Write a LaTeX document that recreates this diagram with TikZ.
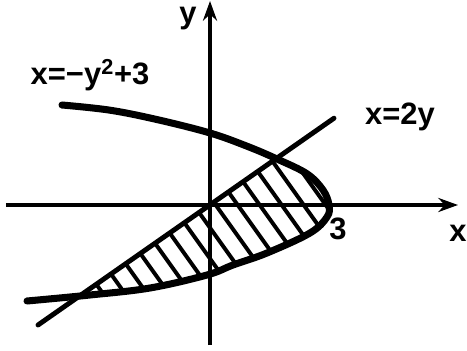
\documentclass[tikz,border=0pt]{standalone}
\usepackage{fontspec}
\setmainfont{Liberation Sans}
\usetikzlibrary{arrows.meta}
\newcommand{\parabolaPath}{
  plot[smooth, tension=0.6] coordinates {
    (-3.7,2.5) (-2.5,2.37) (-1.3,2.13) (0,1.8)
    (0.925,1.47) (1.675,1.15) (2.425,0.78) (2.825,0.375)
    (2.975,0) (2.925,-0.3) (2.5,-0.7) (1.425,-1.2)
    (0.575,-1.5) (-0.075,-1.75) (-1.5,-2.075) (-3.0,-2.25)
    (-4.575,-2.4)
  }
}
\tikzset{
  axisline/.style={line width=2.5pt, -{Stealth[length=14pt,width=10pt]}},
  curveline/.style={line width=5pt, line cap=round},
  chordline/.style={line width=3.5pt, line cap=round},
  hatchline/.style={line width=2.8pt},
  lbl/.style={font=\fontsize{22}{26}\selectfont\bfseries, inner sep=1pt}
}
\begin{document}
\begin{tikzpicture}[x=1cm,y=1cm]

  \def\W{11.675}
  \def\H{8.75}
  \path[use as bounding box] (0,0) rectangle (\W,\H);

  \begin{scope}[shift={(5.25,3.625)}]

    % hatching between line and parabola
    \begin{scope}
      \clip (-6,-4.2) -- (4.5,3.15) -- (4.5,-4.2) -- cycle;
      \clip \parabolaPath -- cycle;
      \foreach \k in {0,...,17}{
        \draw[hatchline] (\k*0.55-7.5,3) -- ++(5,-7);
      }
    \end{scope}

    % axes
    \draw[axisline] (-5.1,0) -- (6.2,0);
    \draw[axisline] (0,-3.5) -- (0,5.1);

    % curves
    \draw[curveline] \parabolaPath;
    \draw[chordline] (-4.3,-3.0) -- (3.1,2.17);

    % labels
    \node[lbl] (ylabel) at (-0.55,4.65) {y};
    \node[lbl] (xlabel) at (6.2,-0.7) {x};
    \node[lbl] (three) at (3.2,-0.6) {3};
    \node[lbl] (linelabel) at (4.75,2.2) {x=2y};
    \node[lbl] (parlabel) at (-3.0,3.25) {x=−y\textsuperscript{2}+3};

  \end{scope}

\end{tikzpicture}
\end{document}
